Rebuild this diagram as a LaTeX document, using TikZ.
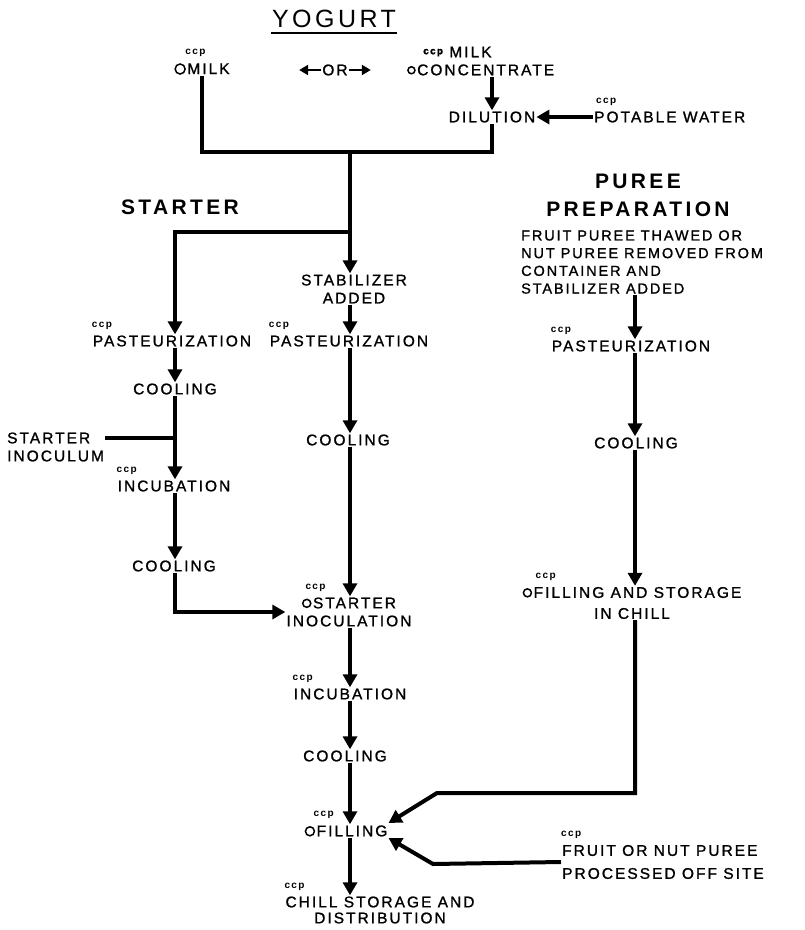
\documentclass[tikz,border=0pt]{standalone}
\usepackage{fontspec}
\setmainfont{Liberation Sans}[LetterSpace=14]
\newfontfamily\stagefont{Liberation Sans}[LetterSpace=13, FakeBold=1.2]
\newfontfamily\headfont{Liberation Sans}[LetterSpace=16]
\usetikzlibrary{arrows.meta}
\newcommand{\crit}[1][4pt]{\tikz[baseline=-5pt]\draw[line width=1.5pt] (0,0) circle (#1);\hspace{1.5pt}}
\newcommand{\ccpfont}{\bfseries\fontsize{10}{10}\selectfont}

\begin{document}
\begin{tikzpicture}[x=1pt,y=1pt,
  stage/.style={font=\stagefont\fontsize{15.5}{18}\selectfont, inner sep=1pt, align=center},
  title/.style={font=\headfont\bfseries\fontsize{21}{28}\selectfont, inner sep=1pt, align=center},
  ccp/.style={font=\ccpfont, inner sep=0pt, anchor=south west, yshift=5pt},
  link/.style={line width=4pt},
  flow/.style={line width=4pt, -{Triangle[width=14pt,length=13pt]}},
  orarrow/.style={line width=2.5pt, -{Triangle[width=10pt,length=9pt]}}]
\useasboundingbox (0,0) rectangle (805,-930);
% top: raw milk or concentrate
\node[font=\fontsize{25}{28}\selectfont, inner sep=1pt] (yogurt) at (334,-19) {YOGURT};
\draw[line width=2pt] ([yshift=-4pt]yogurt.south west) -- ([yshift=-4pt]yogurt.south east);
\node[stage] (milk) at (202,-69) {\crit[5pt]MILK};
\node[ccp] at ([xshift=12pt]milk.north west) {ccp};
\node[stage] (orword) at (335,-70) {OR};
\draw[orarrow] (orword.west) -- ++(-22,0);
\draw[orarrow] (orword.east) -- ++(22,0);
\node[stage, anchor=west, align=left] (conc) at (406,-61) {\hspace*{16pt}\raisebox{3pt}{\ccpfont ccp} MILK\\\crit[3.5pt]CONCENTRATE};
\node[stage] (dilution) at (492,-117) {DILUTION};
\node[stage, anchor=west] (water) at (593,-117) {POTABLE WATER};
\node[ccp] at ([xshift=3pt]water.north west) {ccp};
\coordinate (mix) at (350,-152);
\draw[link] (milk.south) |- (mix) -| (dilution.south);
\draw[flow] (conc.south -| dilution) -- (dilution.north);
\draw[flow] (water) -- (dilution);

% headings
\node[title] (starter) at (180,-207) {STARTER};
\node[title] (puree) at (638,-195) {PUREE\\PREPARATION};

% middle column
\node[stage] (stab) at (354,-289) {STABILIZER\\ADDED};
\node[stage] (past2) at (349,-341) {PASTEURIZATION};
\node[stage] (cool3) at (348,-440) {COOLING};
\node[stage] (inocul) at (349,-612) {\crit STARTER\\INOCULATION};
\node[stage] (incub2) at (350,-694) {INCUBATION};
\node[stage] (cool4) at (345,-756) {COOLING};
\node[stage] (filling) at (346,-831) {\crit[4.5pt]FILLING};
\node[stage] (chill) at (380,-910) {CHILL STORAGE AND\\[-2pt]DISTRIBUTION};
\node[ccp] at (past2.north west) {ccp};
\node[ccp] at ([xshift=20pt]inocul.north west) {ccp};
\node[ccp] at (incub2.north west) {ccp};
\node[ccp] at ([xshift=10pt]filling.north west) {ccp};
\node[ccp] at (chill.north west) {ccp};
\draw[flow] (mix) -- (mix |- stab.north);
\foreach \a/\b in {stab/past2,past2/cool3,cool3/inocul,inocul/incub2,incub2/cool4,cool4/filling,filling/chill}
  \draw[flow] (\a.south -| mix) -- (\b.north -| mix);

% left column: starter
\coordinate (split) at (350,-232);
\coordinate (lcol) at (175,-232);
\node[stage] (past1) at (172,-341) {PASTEURIZATION};
\node[stage] (cool1) at (175,-389) {COOLING};
\node[stage, anchor=west, align=left] (inoc) at (6,-447) {STARTER\\INOCULUM};
\node[stage] (incub1) at (174,-486) {INCUBATION};
\node[stage] (cool2) at (174,-566) {COOLING};
\node[ccp] at (past1.north west) {ccp};
\node[ccp] at (incub1.north west) {ccp};
\coordinate (inocin) at (175,-438);
\draw[flow] (split) -- (lcol) -- (lcol |- past1.north);
\foreach \a/\b in {past1/cool1,cool1/incub1,incub1/cool2}
  \draw[flow] (\a.south -| lcol) -- (\b.north -| lcol);
\draw[link] (inoc.east |- inocin) -- (inocin);
\draw[flow] (cool2.south -| lcol) |- (inocul.west);

% right column: puree
\coordinate (rcol) at (635,-300);
\node[stage, anchor=west, align=left, font=\stagefont\fontsize{14.5}{17.7}\selectfont] (thaw) at (520,-262) {FRUIT PUREE THAWED OR\\NUT PUREE  REMOVED FROM\\CONTAINER AND\\STABILIZER ADDED};
\node[stage] (past3) at (631,-346) {PASTEURIZATION};
\node[stage] (cool5) at (636,-443) {COOLING};
\node[stage] (fillstore) at (632,-603) {\crit FILLING AND STORAGE\\[3pt]IN CHILL};
\node[stage, anchor=west, align=left] (fruit) at (561,-862) {FRUIT OR NUT PUREE\\[5pt]PROCESSED OFF SITE};
\node[ccp] at (past3.north west) {ccp};
\node[ccp] at ([xshift=14pt]fillstore.north west) {ccp};
\node[ccp] at (fruit.north west) {ccp};
\foreach \a/\b in {thaw/past3,past3/cool5,cool5/fillstore}
  \draw[flow] (\a.south -| rcol) -- (\b.north -| rcol);
\coordinate (bendA) at (437,-793);
\coordinate (bendB) at (433,-864);
\draw[flow] (fillstore.south -| rcol) |- (bendA) -- ([yshift=8pt]filling.east);
\draw[flow] (fruit.west) -- (bendB) -- ([yshift=-7pt]filling.east);
\end{tikzpicture}
\end{document}
